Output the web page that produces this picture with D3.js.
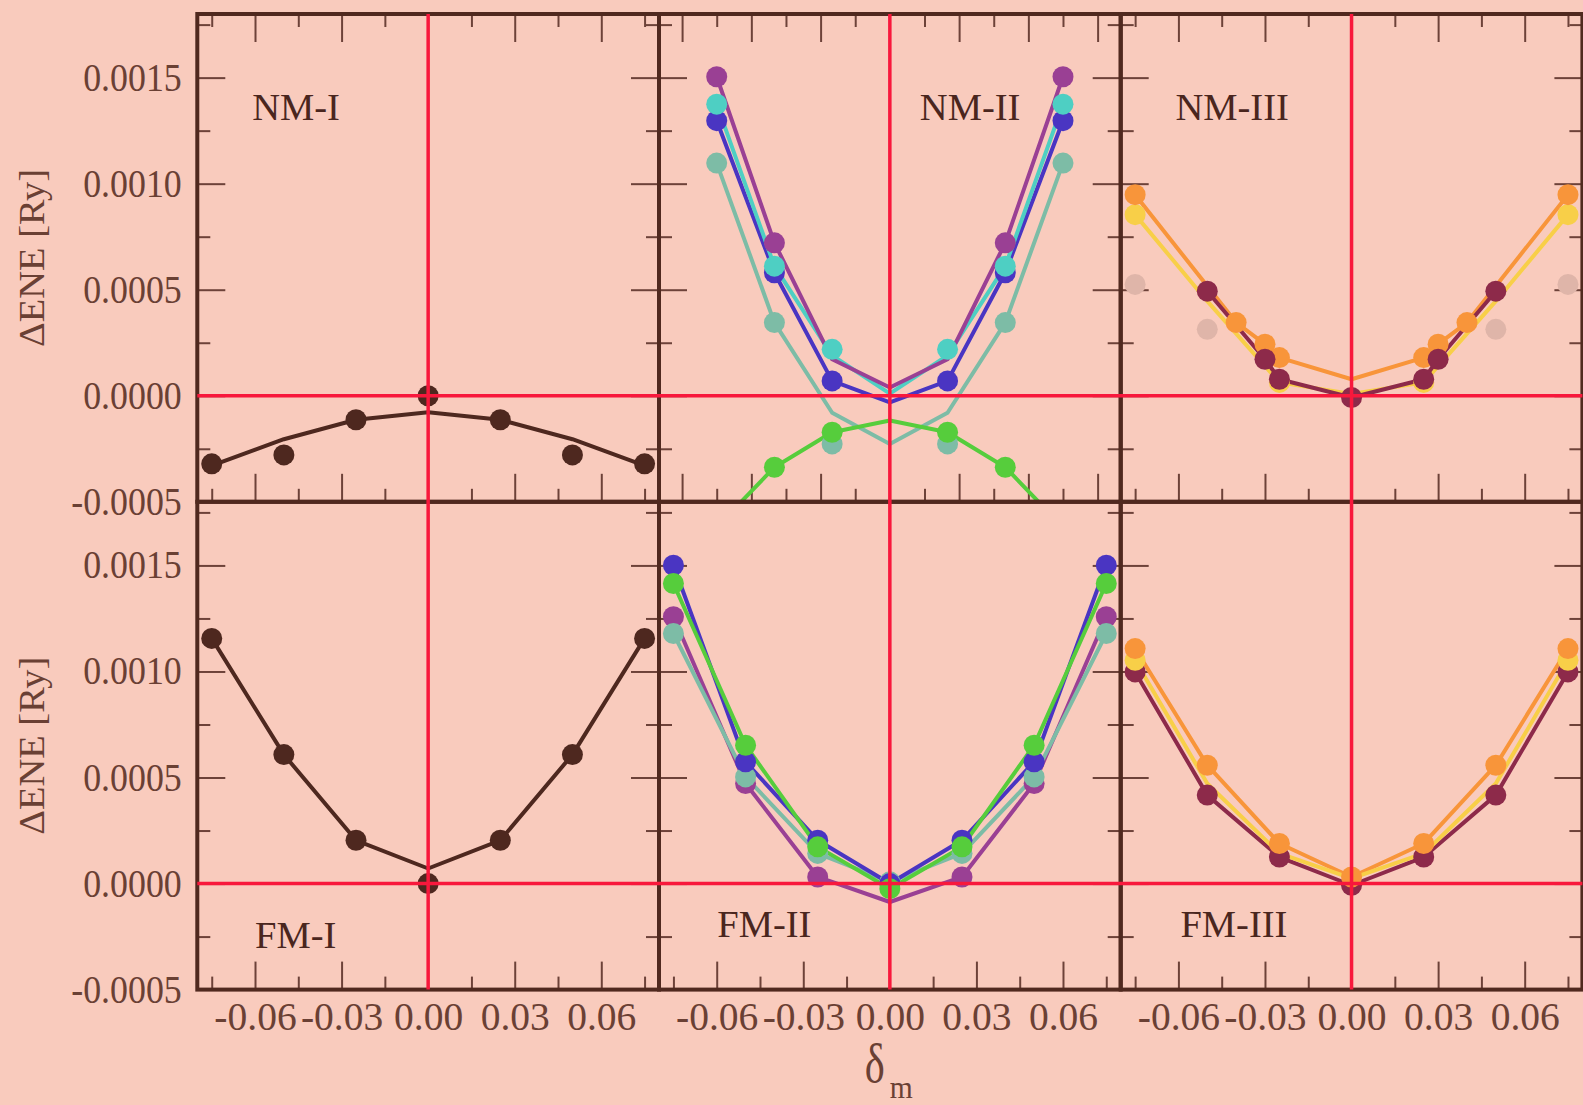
<!DOCTYPE html>
<html><head><meta charset="utf-8">
<script src="https://cdn.jsdelivr.net/npm/d3@7"></script>
<style>html,body{margin:0;padding:0;background:#f9cbbd;overflow:hidden}svg{display:block}</style>
</head><body>
<svg id="chart" width="1583" height="1105"></svg>
<script>
// ---------- DATA ----------
const xStd = [-0.075, -0.05, -0.025, 0, 0.025, 0.05, 0.075];
const xNM2 = [-0.06, -0.04, -0.02, 0, 0.02, 0.04, 0.06];
const xNM3 = [-0.075, -0.05, -0.04, -0.03, -0.025, 0, 0.025, 0.03, 0.04, 0.05, 0.075];

const yTickLabels = [-0.0005, 0.0000, 0.0005, 0.0010, 0.0015];
const xTickLabels = [-0.06, -0.03, 0.00, 0.03, 0.06];

// NM-I
const nm1Dots = [-0.000321, -0.000279, -0.000113, 0.000000, -0.000113, -0.000279, -0.000321];
const nm1Fit  = [-0.000330, -0.000205, -0.000113, -0.000078, -0.000113, -0.000205, -0.000330];
// FM-I
const fm1Dots = [0.001156, 0.000608, 0.000204, 0.000000, 0.000204, 0.000608, 0.001156];
const fm1Fit  = [0.001156, 0.000608, 0.000204, 0.000071, 0.000204, 0.000608, 0.001156];

// NM-II
const nm2TealLine   = [0.001097, 0.000345, -0.000080, -0.000227, -0.000080, 0.000345, 0.001097];
const nm2TealDots   = [0.001097, 0.000345, -0.000227, null, -0.000227, 0.000345, 0.001097];
const nm2BlueLine   = [0.001297, 0.000580, 0.000070, -0.000031, 0.000070, 0.000580, 0.001297];
const nm2BlueDots   = [0.001297, 0.000580, 0.000070, null, 0.000070, 0.000580, 0.001297];
const nm2TurqLine   = [0.001375, 0.000611, 0.000190, 0.000010, 0.000190, 0.000611, 0.001375];
const nm2TurqDots   = [0.001375, 0.000611, 0.000219, null, 0.000219, 0.000611, 0.001375];
const nm2PurpleLine = [0.001504, 0.000721, 0.000172, 0.000039, 0.000172, 0.000721, 0.001504];
const nm2PurpleDots = [0.001504, 0.000721, null, null, null, 0.000721, 0.001504];
const nm2GreenLine  = [-0.000620, -0.000337, -0.000172, -0.000117, -0.000172, -0.000337, -0.000620];
const nm2GreenDots  = [null, -0.000337, -0.000172, null, -0.000172, -0.000337, null];

// NM-III
const nm3FaintDots  = [0.000525, 0.000313, null, null, null, null, null, null, null, 0.000313, 0.000525];
const nm3YellowLine = [0.000854, 0.000446, null, null, 0.000063, 0.000008, 0.000063, null, null, 0.000446, 0.000854];
const nm3YellowDots = [0.000854, null, null, null, 0.000063, null, 0.000063, null, null, null, 0.000854];
const nm3OrangeLine = [0.000948, null, 0.000345, 0.000243, 0.000180, 0.000078, 0.000180, 0.000243, 0.000345, null, 0.000948];
const nm3OrangeDots = [0.000948, null, 0.000345, 0.000243, 0.000180, null, 0.000180, 0.000243, 0.000345, null, 0.000948];
const nm3MaroonLine = [null, 0.000493, null, 0.000172, 0.000078, -0.000008, 0.000078, 0.000172, null, 0.000493, null];

// FM-II
const fm2Purple     = [0.001258, 0.000472, 0.000031, -0.000087, 0.000031, 0.000472, 0.001258];
const fm2PurpleDots = [0.001258, 0.000472, 0.000031, null, 0.000031, 0.000472, 0.001258];
const fm2Teal       = [0.001179, 0.000503, 0.000142, 0.000008, 0.000142, 0.000503, 0.001179];
const fm2Blue       = [0.001501, 0.000574, 0.000204, 0.000000, 0.000204, 0.000574, 0.001501];
const fm2Green      = [0.001415, 0.000652, 0.000173, -0.000024, 0.000173, 0.000652, 0.001415];

// FM-III
const fm3Maroon     = [0.000998, 0.000417, 0.000125, -0.000008, 0.000125, 0.000417, 0.000998];
const fm3Orange     = [0.001108, 0.000558, 0.000189, 0.000031, 0.000189, 0.000558, 0.001108];
const fm3Yellow     = [0.001053, 0.000472, 0.000142, 0.000024, 0.000142, 0.000472, 0.001053];
const fm3YellowDots = [0.001053, null, null, null, null, null, 0.001053];

const colors = {
  brown: '#4e281f', purple: '#9a4094', turq: '#4ecfc3', blue: '#4a35c2', teal: '#7dbca6',
  green: '#56cd3c', orange: '#f8953a', yellow: '#f8cf48', maroon: '#8d2a4a', faint: '#dfb5a9'
};

// series order = line order; dotZ = marker stacking order (higher on top)
const panels = [
  { name: 'NM-I', row: 0, col: 0, x: xStd, label: [-0.061, 0.00130], topTicks: 'std',
    series: [{ c: 'brown', line: nm1Fit, dots: nm1Dots, dotZ: 0 }] },
  { name: 'NM-II', row: 0, col: 1, x: xNM2, label: [0.0104, 0.00130], topTicks: 'alt',
    series: [
      { c: 'teal', line: nm2TealLine, dots: nm2TealDots, dotZ: 0 },
      { c: 'blue', line: nm2BlueLine, dots: nm2BlueDots, dotZ: 1 },
      { c: 'turq', line: nm2TurqLine, dots: nm2TurqDots, dotZ: 2 },
      { c: 'purple', line: nm2PurpleLine, dots: nm2PurpleDots, dotZ: 3 },
      { c: 'green', line: nm2GreenLine, dots: nm2GreenDots, dotZ: 4 }] },
  { name: 'NM-III', row: 0, col: 2, x: xNM3, label: [-0.061, 0.00130], topTicks: 'std',
    series: [
      { c: 'faint', line: null, dots: nm3FaintDots, dotZ: 0 },
      { c: 'yellow', line: nm3YellowLine, dots: nm3YellowDots, dotZ: 1 },
      { c: 'orange', line: nm3OrangeLine, dots: nm3OrangeDots, dotZ: 2 },
      { c: 'maroon', line: nm3MaroonLine, dots: nm3MaroonLine, dotZ: 3 }] },
  { name: 'FM-I', row: 1, col: 0, x: xStd, label: [-0.060, -0.000305], topTicks: null,
    series: [{ c: 'brown', line: fm1Fit, dots: fm1Dots, dotZ: 0 }] },
  { name: 'FM-II', row: 1, col: 1, x: xStd, label: [-0.0598, -0.00025], topTicks: null,
    series: [
      { c: 'purple', line: fm2Purple, dots: fm2PurpleDots, dotZ: 0 },
      { c: 'teal', line: fm2Teal, dots: fm2Teal, dotZ: 1 },
      { c: 'blue', line: fm2Blue, dots: fm2Blue, dotZ: 2 },
      { c: 'green', line: fm2Green, dots: fm2Green, dotZ: 3 }] },
  { name: 'FM-III', row: 1, col: 2, x: xStd, label: [-0.0593, -0.00025], topTicks: null,
    series: [
      { c: 'maroon', line: fm3Maroon, dots: fm3Maroon, dotZ: 0 },
      { c: 'orange', line: fm3Orange, dots: fm3Orange, dotZ: 2 },
      { c: 'yellow', line: fm3Yellow, dots: fm3YellowDots, dotZ: 1 }] }
];

// ---------- LAYOUT / STYLE ----------
const W = 1583, H = 1105;
const left0 = 197.3, panelW = 461.7, top0 = 14, rowH = 487.8;
const BG = '#f9cbbd', FRAME = '#50291f', TICK = '#6d4239', TEXT = '#6a4034', LABEL = '#4a261e', RED = '#f8183c';
const FONT = '"Liberation Serif", "Times New Roman", serif';
const xDomain = [-0.08, 0.08], yDomain = [-0.0005, 0.0018];
const R = 10.5;

const svg = d3.select('#chart');
svg.append('rect').attr('width', W).attr('height', H).attr('fill', BG);
const defs = svg.append('defs');

const stdMajor = [-0.06, -0.03, 0.03, 0.06];
const stdMinor = [-0.075, -0.045, -0.015, 0.015, 0.045, 0.075];
const altMajor = [-0.072, -0.048, -0.024, 0.024, 0.048, 0.072];
const altMinor = [-0.06, -0.036, -0.012, 0.012, 0.036, 0.06];
const yMajor = [0.0005, 0.0010, 0.0015, 0.0000];
const yMinor = [-0.00025, 0.00025, 0.00075, 0.00125, 0.00175];

function tickAxis(g, axis) {
  g.call(axis);
  g.select('.domain').remove();
  g.selectAll('line').attr('stroke', TICK).attr('stroke-width', 2);
  g.selectAll('text').remove();
}

const scales = [];
panels.forEach((p, pi) => {
  const x0 = left0 + p.col * panelW, y0 = top0 + p.row * rowH;
  const xs = d3.scaleLinear().domain(xDomain).range([x0, x0 + panelW]);
  const ys = d3.scaleLinear().domain(yDomain).range([y0 + rowH, y0]);
  scales.push({ xs, ys, x0, y0 });

  const g = svg.append('g');
  const mk = (a, vals, size) => a.tickValues(vals).tickSize(size).tickFormat('');
  tickAxis(g.append('g').attr('transform', `translate(${x0},0)`), mk(d3.axisRight(ys), yMajor, 28));
  tickAxis(g.append('g').attr('transform', `translate(${x0},0)`), mk(d3.axisRight(ys), yMinor, 13));
  tickAxis(g.append('g').attr('transform', `translate(${x0 + panelW},0)`), mk(d3.axisLeft(ys), yMajor, 28));
  tickAxis(g.append('g').attr('transform', `translate(${x0 + panelW},0)`), mk(d3.axisLeft(ys), yMinor, 13));
  const bMaj = p.row === 0 && p.topTicks === 'alt' ? altMajor : stdMajor;
  const bMin = p.row === 0 && p.topTicks === 'alt' ? altMinor : stdMinor;
  tickAxis(g.append('g').attr('transform', `translate(0,${y0 + rowH})`), mk(d3.axisTop(xs), bMaj, 28));
  tickAxis(g.append('g').attr('transform', `translate(0,${y0 + rowH})`), mk(d3.axisTop(xs), bMin, 13));
  if (p.topTicks) {
    tickAxis(g.append('g').attr('transform', `translate(0,${y0})`), mk(d3.axisBottom(xs), bMaj, 28));
    tickAxis(g.append('g').attr('transform', `translate(0,${y0})`), mk(d3.axisBottom(xs), bMin, 13));
  }

  const cid = 'clip' + pi;
  defs.append('clipPath').attr('id', cid).append('rect')
    .attr('x', x0 - 30).attr('y', y0).attr('width', panelW + 60).attr('height', rowH);

  const line = d3.line().x(d => xs(d[0])).y(d => ys(d[1]));
  const lineG = g.append('g'), dotG = g.append('g');
  p.series.forEach(s => {
    if (!s.line) return;
    const pts = p.x.map((xv, i) => [xv, s.line[i]]).filter(d => d[1] != null);
    lineG.append('path').attr('d', line(pts)).attr('fill', 'none').attr('stroke', colors[s.c])
      .attr('stroke-width', 4).attr('stroke-linejoin', 'round').attr('clip-path', `url(#${cid})`);
  });
  p.series.slice().sort((a, b) => a.dotZ - b.dotZ).forEach(s => {
    const dots = p.x.map((xv, i) => [xv, s.dots[i]]).filter(d => d[1] != null);
    dotG.selectAll(null).data(dots).enter().append('circle')
      .attr('cx', d => xs(d[0])).attr('cy', d => ys(d[1])).attr('r', R).attr('fill', colors[s.c]);
  });

  svg.append('text').attr('x', xs(p.label[0])).attr('y', ys(p.label[1]))
    .attr('font-family', FONT).attr('font-size', 38.5).attr('fill', LABEL).text(p.name);
});

// frames
panels.forEach((p, i) => {
  const s = scales[i];
  svg.append('rect').attr('x', s.x0).attr('y', s.y0).attr('width', panelW).attr('height', rowH)
    .attr('fill', 'none').attr('stroke', FRAME).attr('stroke-width', 4);
});

// red zero lines
[0, 1, 2].forEach(c => {
  const s = scales[c];
  svg.append('line').attr('x1', s.xs(0)).attr('x2', s.xs(0)).attr('y1', top0).attr('y2', top0 + 2 * rowH)
    .attr('stroke', RED).attr('stroke-width', 3.5);
});
[0, 1].forEach(r => {
  const s = scales[r * 3];
  svg.append('line').attr('x1', left0).attr('x2', left0 + 3 * panelW).attr('y1', s.ys(0)).attr('y2', s.ys(0))
    .attr('stroke', RED).attr('stroke-width', 3.5);
});

// y tick labels (left column)
[0, 1].forEach(r => {
  const s = scales[r * 3];
  const g = svg.append('g').attr('transform', `translate(${left0},0)`)
    .call(d3.axisLeft(s.ys).tickValues(yTickLabels).tickSize(0).tickPadding(15.5).tickFormat(d => d.toFixed(4)));
  g.select('.domain').remove();
  g.selectAll('text').attr('font-family', FONT).attr('font-size', 39).attr('fill', TEXT)
    .attr('transform', 'scale(0.92,1)').attr('x', -15.5 / 0.92);
  svg.append('text').attr('transform', `translate(44,${s.y0 + rowH / 2}) rotate(-90)`)
    .attr('text-anchor', 'middle').attr('font-family', FONT).attr('font-size', 35).attr('fill', TEXT)
    .attr('textLength', 178).attr('lengthAdjust', 'spacingAndGlyphs').text('ΔENE [Ry]');
});

// x tick labels (bottom row)
[3, 4, 5].forEach(i => {
  const s = scales[i];
  const g = svg.append('g').attr('transform', `translate(0,${s.y0 + rowH})`)
    .call(d3.axisBottom(s.xs).tickValues(xTickLabels).tickSize(0).tickFormat(d => d.toFixed(2)));
  g.select('.domain').remove();
  g.selectAll('text').attr('font-family', FONT).attr('font-size', 39.5).attr('fill', TEXT)
    .attr('y', 40.5).attr('dy', null);
});

// x axis title
const cx = scales[4].xs(0);
svg.append('text').attr('x', cx - 15).attr('y', 1082).attr('text-anchor', 'middle')
  .attr('font-family', FONT).attr('font-size', 54).attr('fill', TEXT)
  .attr('textLength', 20).attr('lengthAdjust', 'spacingAndGlyphs').text('δ');
svg.append('text').attr('x', cx).attr('y', 1098)
  .attr('font-family', FONT).attr('font-size', 31).attr('fill', TEXT)
  .attr('textLength', 23).attr('lengthAdjust', 'spacingAndGlyphs').text('m');
</script>
</body></html>
